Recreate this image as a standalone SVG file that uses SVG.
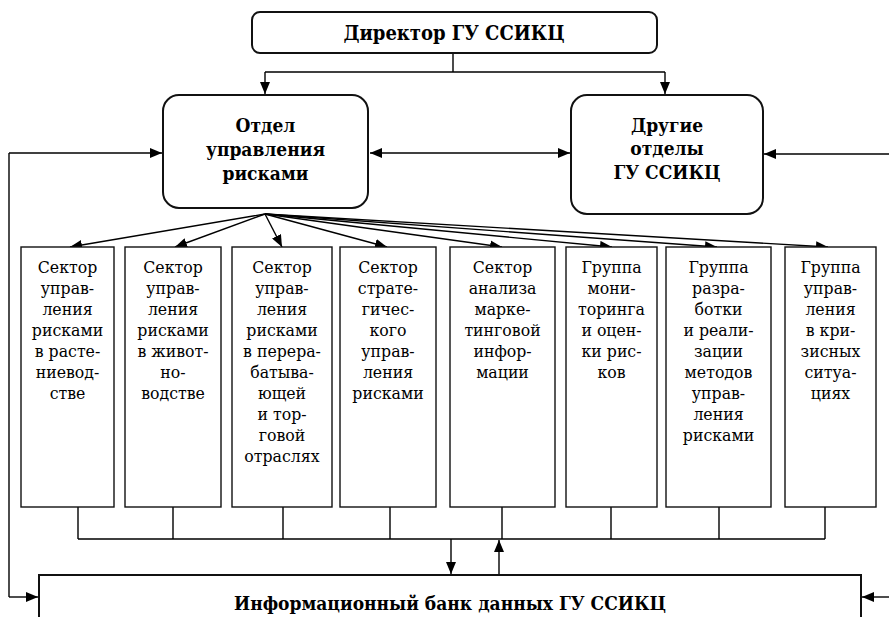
<svg xmlns="http://www.w3.org/2000/svg" width="889" height="617" viewBox="0 0 889 617">
<defs>
<marker id="ah" markerUnits="userSpaceOnUse" markerWidth="12" markerHeight="10" viewBox="0 0 12 10" refX="12" refY="5" orient="auto-start-reverse">
<path d="M0,0 L12,5 L0,10 z" fill="#000"/>
</marker>
<style>
.rb{fill:#fff;stroke:#111;stroke-width:2}
.bx{fill:#fff;stroke:#111;stroke-width:1.4}
.ln{fill:none;stroke:#000;stroke-width:1.4}
.ar{fill:none;stroke:#000;stroke-width:1.4;marker-end:url(#ah)}
text{font-family:'DejaVu Serif Condensed','DejaVu Serif','Liberation Serif','Times New Roman',serif;font-stretch:condensed;text-anchor:middle;fill:#000}
.hb{font-weight:bold;font-size:19px}
.st{font-size:17.5px}
</style>
</defs>
<rect width="889" height="617" fill="#fff"/>
<g id="connectors">
<path class="ln" d="M453,53 V72 M265,72 H665"/>
<path class="ar" d="M265,72 V94"/>
<path class="ar" d="M665,72 V94"/>
<path class="ar" d="M370,153 H570" style="marker-start:url(#ah)"/>
<path class="ar" d="M9,153 H162"/>
<path class="ln" d="M9,153 V597"/>
<path class="ar" d="M9,597 H38"/>
<path class="ar" d="M889,154 H764"/>
<path class="ar" d="M889,597 H862"/>
<path class="ar" d="M265,214 L70,247"/>
<path class="ar" d="M265,214 L175,247"/>
<path class="ar" d="M265,214 L282,247"/>
<path class="ar" d="M265,214 L387,247"/>
<path class="ar" d="M265,214 L502,247"/>
<path class="ar" d="M265,214 L612,247"/>
<path class="ar" d="M265,214 L717,247"/>
<path class="ar" d="M265,214 L828,247"/>
<path class="ln" d="M78,507 V539 M173,507 V539 M283,507 V539 M390,507 V539 M502,507 V539 M611,507 V539 M719,507 V539 M825,507 V539 M78,539 H825"/>
<path class="ar" d="M451,539 V574"/>
<path class="ar" d="M499,575 V540"/>
</g>
<g id="director">
<rect class="rb" x="252" y="12" width="405" height="41" rx="8"/>
<text class="hb" x="454" y="40" style="font-size:20px">Директор ГУ ССИКЦ</text>
</g>
<g id="risk-dept">
<rect class="rb" x="163" y="95" width="205" height="113" rx="16"/>
<text class="hb" x="265.5" y="132">Отдел</text>
<text class="hb" x="265.5" y="156">управления</text>
<text class="hb" x="265.5" y="180">рисками</text>
</g>
<g id="other-depts">
<rect class="rb" x="571" y="95" width="192" height="119" rx="16"/>
<text class="hb" x="667" y="132">Другие</text>
<text class="hb" x="667" y="155">отделы</text>
<text class="hb" x="667" y="179">ГУ ССИКЦ</text>
</g>
<g id="s1">
<rect class="bx" x="21" y="247" width="93" height="260"/>
<text class="st" x="67.5" y="273">Сектор</text>
<text class="st" x="67.5" y="294">управ-</text>
<text class="st" x="67.5" y="315">ления</text>
<text class="st" x="67.5" y="336">рисками</text>
<text class="st" x="67.5" y="357">в расте-</text>
<text class="st" x="67.5" y="378">ниевод-</text>
<text class="st" x="67.5" y="399">стве</text>
</g>
<g id="s2">
<rect class="bx" x="125" y="247" width="96" height="260"/>
<text class="st" x="173" y="273">Сектор</text>
<text class="st" x="173" y="294">управ-</text>
<text class="st" x="173" y="315">ления</text>
<text class="st" x="173" y="336">рисками</text>
<text class="st" x="173" y="357">в живот-</text>
<text class="st" x="173" y="378">но-</text>
<text class="st" x="173" y="399">водстве</text>
</g>
<g id="s3">
<rect class="bx" x="232" y="247" width="100" height="260"/>
<text class="st" x="282" y="273">Сектор</text>
<text class="st" x="282" y="294">управ-</text>
<text class="st" x="282" y="315">ления</text>
<text class="st" x="282" y="336">рисками</text>
<text class="st" x="282" y="357">в перера-</text>
<text class="st" x="282" y="378">батыва-</text>
<text class="st" x="282" y="399">ющей</text>
<text class="st" x="282" y="420">и тор-</text>
<text class="st" x="282" y="441">говой</text>
<text class="st" x="282" y="462">отраслях</text>
</g>
<g id="s4">
<rect class="bx" x="340" y="247" width="96" height="260"/>
<text class="st" x="388" y="273">Сектор</text>
<text class="st" x="388" y="294">страте-</text>
<text class="st" x="388" y="315">гичес-</text>
<text class="st" x="388" y="336">кого</text>
<text class="st" x="388" y="357">управ-</text>
<text class="st" x="388" y="378">ления</text>
<text class="st" x="388" y="399">рисками</text>
</g>
<g id="s5">
<rect class="bx" x="450" y="247" width="105" height="260"/>
<text class="st" x="502.5" y="273">Сектор</text>
<text class="st" x="502.5" y="294">анализа</text>
<text class="st" x="502.5" y="315">марке-</text>
<text class="st" x="502.5" y="336">тинговой</text>
<text class="st" x="502.5" y="357">инфор-</text>
<text class="st" x="502.5" y="378">мации</text>
</g>
<g id="g6">
<rect class="bx" x="566" y="247" width="91" height="260"/>
<text class="st" x="611.5" y="273">Группа</text>
<text class="st" x="611.5" y="294">мони-</text>
<text class="st" x="611.5" y="315">торинга</text>
<text class="st" x="611.5" y="336">и оцен-</text>
<text class="st" x="611.5" y="357">ки рис-</text>
<text class="st" x="611.5" y="378">ков</text>
</g>
<g id="g7">
<rect class="bx" x="666" y="247" width="105" height="260"/>
<text class="st" x="718.5" y="273">Группа</text>
<text class="st" x="718.5" y="294">разра-</text>
<text class="st" x="718.5" y="315">ботки</text>
<text class="st" x="718.5" y="336">и реали-</text>
<text class="st" x="718.5" y="357">зации</text>
<text class="st" x="718.5" y="378">методов</text>
<text class="st" x="718.5" y="399">управ-</text>
<text class="st" x="718.5" y="420">ления</text>
<text class="st" x="718.5" y="441">рисками</text>
</g>
<g id="g8">
<rect class="bx" x="785" y="247" width="91" height="260"/>
<text class="st" x="830.5" y="273">Группа</text>
<text class="st" x="830.5" y="294">управ-</text>
<text class="st" x="830.5" y="315">ления</text>
<text class="st" x="830.5" y="336">в кри-</text>
<text class="st" x="830.5" y="357">зисных</text>
<text class="st" x="830.5" y="378">ситуа-</text>
<text class="st" x="830.5" y="399">циях</text>
</g>
<g id="databank">
<rect class="bx" x="39" y="575" width="822" height="60" style="stroke-width:2"/>
<text class="hb" x="450" y="610">Информационный банк данных ГУ ССИКЦ</text>
</g>
</svg>
